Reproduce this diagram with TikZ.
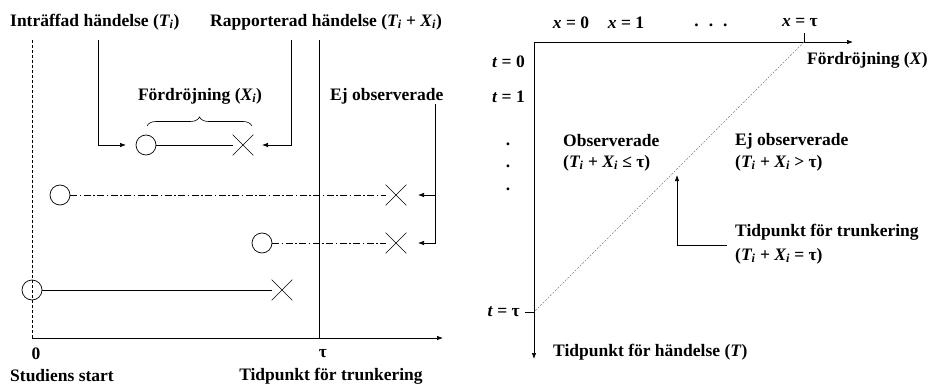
\documentclass[tikz,border=0pt]{standalone}
\usepackage{fontspec}
\setmainfont{Liberation Serif}
\usetikzlibrary{arrows.meta,shapes.misc,decorations.pathreplacing}
\newcommand{\myTi}{\textit{T\textsubscript{i}}}
\newcommand{\myXi}{\textit{X\textsubscript{i}}}
\begin{document}
\begin{tikzpicture}[x=1pt,y=-1pt,
  txt/.style={font=\fontsize{17.5}{20}\selectfont\bfseries, inner sep=0pt},
  evstart/.style={draw, circle, minimum size=20pt, inner sep=0pt, line width=0.7pt},
  evend/.style={draw, cross out, minimum size=20pt, inner sep=0pt, line width=0.6pt},
  ln/.style={line width=0.7pt},
  dd/.style={line width=0.7pt, dash pattern=on 7pt off 2.5pt on 1.5pt off 2.5pt},
  arr/.style={line width=0.7pt, -{Latex[length=6pt,width=4.5pt]}},
  thin/.style={line width=0.6pt}]
\useasboundingbox (0,0) rectangle (936,385);
% ---------- left panel ----------
\coordinate (o) at (32,338);
\coordinate (axend) at (443,338);
\coordinate (dtop) at (32,40);
\coordinate (tautop) at (319,40);
\coordinate (taubot) at (319,338);
\draw[thin, dash pattern=on 3pt off 2pt] (dtop) -- (o);
\draw[arr] (o) -- (axend);
\draw[ln] (tautop) -- (taubot);

\node[txt, anchor=west] (lblT) at (10,22) {Inträffad händelse (\myTi)};
\node[txt, anchor=west] (lblR) at (210,22) {Rapporterad händelse (\myTi\ + \myXi)};

\node[evstart] (c1) at (146,145) {};
\node[evend] (x1) at (243,145) {};
\draw[ln] (c1) -- (x1);
\coordinate (a1) at (98,40);
\coordinate (a1t) at (126,145);
\draw[arr] (a1) |- (a1t);
\coordinate (a2) at (291,40);
\coordinate (a2t) at (262,145);
\draw[arr] (a2) |- (a2t);

\draw[thin, decorate, decoration={brace, amplitude=9pt}] (147,126) -- (252,126);
\node[txt] (lblF) at (200,96) {Fördröjning (\myXi)};

\node[evstart] (c2) at (60,195) {};
\node[evend] (x2) at (396,195) {};
\draw[dd] (c2) -- (x2);
\node[evstart] (c3) at (262,243) {};
\node[evend] (x3) at (396,243) {};
\draw[dd] (c3) -- (x3);
\node[evstart] (c4) at (32,290) {};
\node[evend] (x4) at (282,290) {};
\draw[ln] (c4) -- (x4);

\node[txt, anchor=west] (lblE) at (330,96) {Ej observerade};
\coordinate (e1) at (435,104);
\coordinate (e2) at (418,195);
\coordinate (e3) at (418,243);
\coordinate (ec) at (435,195);
\draw[arr] (e1) |- (e2);
\draw[arr] (ec) |- (e3);

\node[txt] (zero) at (36,354) {0};
\node[txt, anchor=west] (start) at (10,376) {Studiens start};
\node[txt] (tau) at (323,354) {τ};
\node[txt] (trunk) at (331,376) {Tidpunkt för trunkering};

% ---------- right panel ----------
\coordinate (O) at (534,42);
\coordinate (Xend) at (853,42);
\coordinate (Tend) at (534,359);
\draw[arr] (O) -- (Xend);
\draw[arr] (O) -- (Tend);
\coordinate (xt) at (804,42);
\coordinate (xtt) at (804,33);
\draw[thin] (xt) -- (xtt);
\coordinate (tt) at (534,312);
\coordinate (ttl) at (525,312);
\draw[thin] (tt) -- (ttl);
\draw[line width=0.5pt, gray, dash pattern=on 2pt off 1.5pt] (xt) -- (tt);

\node[txt] (x0) at (571,23) {\textit{x} = 0};
\node[txt] (x1l) at (626,23) {\textit{x} = 1};
\node[txt] (xdots) at (711,25) {.\hspace{10pt}.\hspace{10pt}.};
\node[txt] (xtau) at (800,23) {\textit{x} = τ};
\node[txt, anchor=west] (lblX) at (807,60) {Fördröjning (\textit{X})};

\node[txt, anchor=east] (t0) at (525,62) {\textit{t} = 0};
\node[txt, anchor=east] (t1) at (525,97) {\textit{t} = 1};
\node[txt] (d1) at (508,144) {.};
\node[txt] (d2) at (508,166) {.};
\node[txt] (d3) at (508,189) {.};
\node[txt, anchor=east] (ttau) at (520,312) {\textit{t} = τ};
\node[txt, anchor=west] (lblT2) at (553,352) {Tidpunkt för händelse (\textit{T})};

\node[txt, anchor=west] (obs) at (563,141) {Observerade};
\node[txt, anchor=west] (obsf) at (563,163) {(\myTi\ + \myXi\ ≤ τ)};
\node[txt, anchor=west] (nobs) at (735,141) {Ej observerade};
\node[txt, anchor=west] (nobsf) at (735,163) {(\myTi\ + \myXi\ > τ)};

\coordinate (p1) at (727,245);
\coordinate (p2) at (677,175);
\draw[arr] (p1) -| (p2);
\node[txt, anchor=west] (tr) at (735,232) {Tidpunkt för trunkering};
\node[txt, anchor=west] (trf) at (735,256) {(\myTi\ + \myXi\ = τ)};
\end{tikzpicture}
\end{document}
